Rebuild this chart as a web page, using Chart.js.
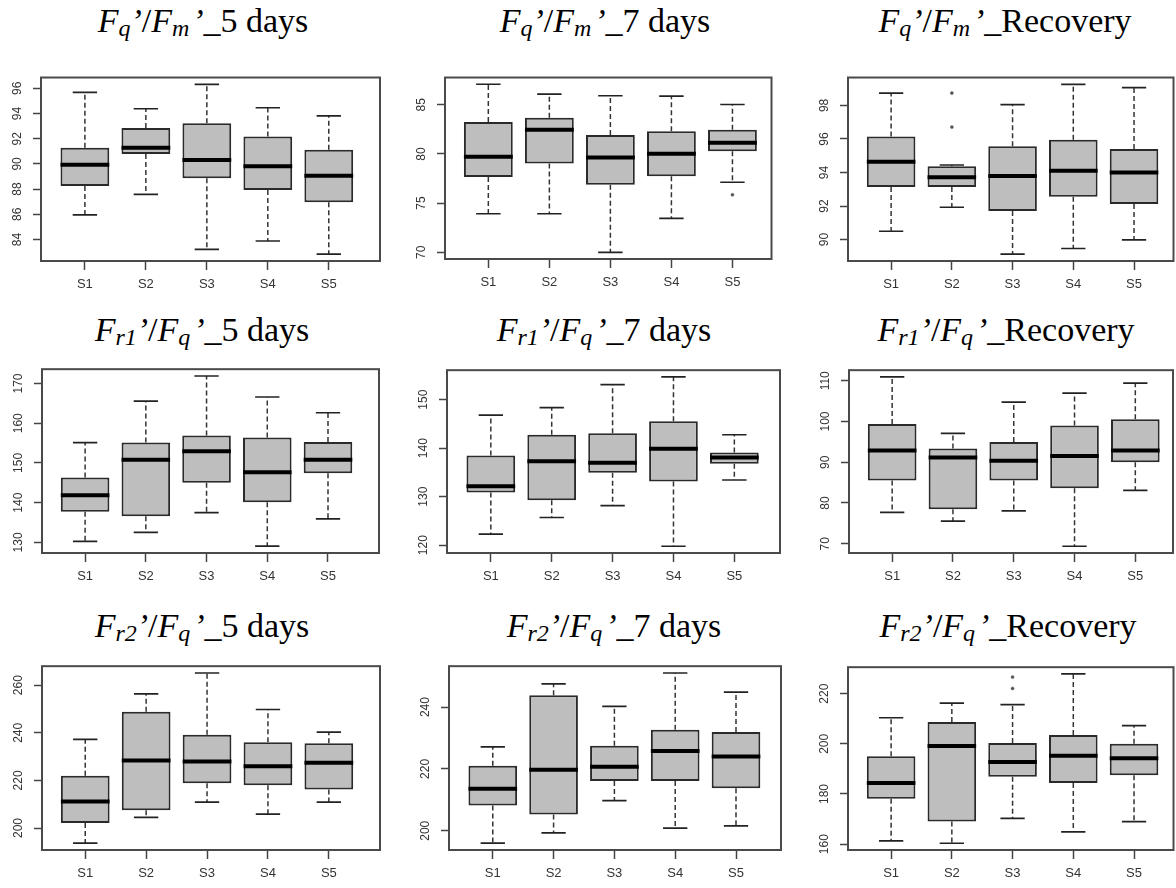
<!DOCTYPE html>
<html>
<head>
<meta charset="utf-8">
<script src="https://cdn.jsdelivr.net/npm/chart.js@4.4.0/dist/chart.umd.min.js"></script>
<style>
body { margin: 0; background: #fff; width: 1176px; height: 888px; position: relative; overflow: hidden; }
.title { position: absolute; width: 400px; text-align: center; font-family: "Liberation Serif", "Times New Roman", serif;
         font-size: 34px; line-height: 34px; white-space: nowrap; color: #000; }
.title sub { font-size: 24px; vertical-align: -4px; line-height: 0; }
canvas { position: absolute; }
</style>
</head>
<body>
<script>
// categories and panel names
const categories = ['S1', 'S2', 'S3', 'S4', 'S5'];
const ratioNames = [['q', 'm'], ['r1', 'q'], ['r2', 'q']];
const periods = ['5 days', '7 days', 'Recovery'];

// box statistics, one row per panel (left to right, top to bottom)
const whiskerLow = [
    [85.95, 87.58, 83.21, 83.88, 82.83],
    [73.92, 73.92, 70.00, 73.45, 77.12],
    [90.50, 91.93, 89.13, 89.47, 89.99],
    [130.24, 132.52, 137.50, 129.04, 135.91],
    [122.30, 125.71, 128.17, 119.79, 133.44],
    [77.69, 75.54, 78.08, 69.38, 83.07],
    [193.62, 204.50, 210.86, 205.82, 210.86],
    [195.97, 199.33, 209.71, 200.86, 201.56],
    [161.27, 160.37, 170.27, 164.87, 168.99]
];
const quartile1 = [
    [88.24, 90.78, 88.87, 87.93, 86.96],
    [77.65, 79.02, 76.87, 77.72, 80.28],
    [93.14, 93.14, 91.71, 92.55, 92.12],
    [137.74, 136.56, 145.02, 140.11, 147.39],
    [130.87, 129.25, 134.92, 133.11, 136.78],
    [85.54, 78.45, 85.54, 83.63, 90.00],
    [202.12, 207.41, 218.81, 218.01, 216.15],
    [208.18, 205.22, 216.12, 216.12, 213.77],
    [178.14, 168.99, 186.88, 184.37, 187.51]
];
const median = [
    [89.93, 91.28, 90.31, 89.82, 89.05],
    [79.72, 82.47, 79.65, 80.03, 81.14],
    [94.64, 93.72, 93.80, 94.10, 94.00],
    [141.84, 150.78, 152.92, 147.63, 150.78],
    [132.14, 137.30, 136.97, 139.87, 138.07],
    [92.86, 91.15, 90.39, 91.55, 92.86],
    [211.10, 228.34, 227.95, 225.96, 227.40],
    [213.59, 219.69, 220.70, 225.80, 223.97],
    [184.37, 199.14, 192.76, 195.24, 194.26]
];
const quartile3 = [
    [91.28, 92.85, 93.22, 92.18, 91.13],
    [83.26, 83.67, 81.93, 82.31, 82.47],
    [96.15, 94.37, 95.57, 95.96, 95.40],
    [146.35, 155.12, 156.88, 156.40, 155.29],
    [138.46, 142.76, 143.09, 145.54, 139.10],
    [99.40, 93.39, 94.94, 99.01, 100.55],
    [221.99, 248.84, 239.19, 236.01, 235.61],
    [221.00, 243.82, 227.51, 232.70, 231.91],
    [195.01, 208.74, 200.37, 203.49, 200.00]
];
const whiskerHigh = [
    [95.68, 94.38, 96.32, 94.46, 93.82],
    [87.09, 86.08, 85.92, 85.89, 85.03],
    [98.74, 94.45, 98.05, 99.26, 99.06],
    [155.12, 165.56, 171.89, 166.60, 162.64],
    [146.82, 148.36, 153.07, 154.67, 142.76],
    [110.94, 97.09, 104.78, 106.95, 109.40],
    [237.20, 256.39, 265.13, 249.80, 240.26],
    [227.11, 247.48, 240.24, 251.02, 244.82],
    [210.39, 216.24, 215.64, 227.86, 207.24]
];
// outliers as [category number, value]
const outliers = [
    [], [[5, 75.85]], [[2, 98.74], [2, 96.71]],
    [], [], [],
    [], [], [[3, 226.6], [3, 222.1]]
];
const tickSteps = [2, 5, 2, 10, 10, 10, 20, 20, 20];

// layout: plot box [left, top, right, bottom] and x range per panel
const areas = [
    [41, 64, 380, 261], [445, 64, 772, 259], [848, 64, 1174, 261],
    [42, 359, 379, 553], [447, 360, 780, 553], [849, 360, 1173, 553],
    [42, 656, 380, 850], [449, 656, 781, 850], [848, 657, 1174, 850]
];
const xRanges = [
    [0.28, 5.84], [0.29, 5.64], [0.29, 5.65],
    [0.29, 5.84], [0.28, 5.75], [0.29, 5.62],
    [0.29, 5.84], [0.28, 5.74], [0.29, 5.65]
];
const titleCenters = [203, 605, 1005, 202, 604, 1006, 202, 614, 1008];
const titleBaselines = [32, 341, 637];

const framePlugin = {
    id: 'frame',
    afterDatasetsDraw(chart) {
        const a = chart.chartArea;
        const ctx = chart.ctx;
        ctx.save();
        ctx.strokeStyle = '#4a4a4a';
        ctx.lineWidth = 2;
        ctx.strokeRect(a.left, a.top, a.right - a.left, a.bottom - a.top);
        ctx.restore();
    }
};

function halfWidth(ctx, units) {
    const s = ctx.chart.scales.x;
    return Math.abs(s.getPixelForValue(1 + units) - s.getPixelForValue(1));
}

for (let p = 0; p < 9; p++) {
    const row = Math.floor(p / 3), col = p % 3;

    // title
    const t = document.createElement('div');
    t.className = 'title';
    t.style.left = (titleCenters[p] - 200) + 'px';
    t.style.top = (titleBaselines[row] - 28.5) + 'px';
    const names = ratioNames[row];
    t.innerHTML = '<i>F</i><sub><i>' + names[0] + '</i></sub><i>’</i>/<i>F</i><sub><i>' + names[1] +
        '</i></sub><i>&#8202;’</i>_' + periods[col];
    document.body.appendChild(t);

    // y range like R: data range plus 4 %
    const all = whiskerLow[p].concat(whiskerHigh[p], outliers[p].map(o => o[1]));
    const lo = Math.min(...all), hi = Math.max(...all);
    const ext = (hi - lo) * 0.04;
    const digits = String(Math.floor(hi)).length;

    const a = areas[p];
    const yAxisW = 40, xAxisH = 36, padT = 2, padR = 4;
    const canvas = document.createElement('canvas');
    canvas.width = a[2] - a[0] + yAxisW + padR;
    canvas.height = a[3] - a[1] + padT + xAxisH;
    canvas.style.left = (a[0] - yAxisW) + 'px';
    canvas.style.top = (a[1] - padT) + 'px';
    document.body.appendChild(canvas);

    const whiskerData = [];
    const capData = [];
    categories.forEach((c, i) => {
        whiskerData.push({x: i + 1, y: quartile3[p][i]}, {x: i + 1, y: whiskerHigh[p][i]}, {x: i + 1, y: null});
        whiskerData.push({x: i + 1, y: quartile1[p][i]}, {x: i + 1, y: whiskerLow[p][i]}, {x: i + 1, y: null});
        capData.push({x: i + 1, y: whiskerHigh[p][i]}, {x: i + 1, y: whiskerLow[p][i]});
    });

    new Chart(canvas, {
        type: 'bar',
        data: {
            datasets: [{
                type: 'bar',
                data: categories.map((c, i) => ({x: i + 1, y: [quartile1[p][i], quartile3[p][i]]})),
                backgroundColor: '#bebebe',
                borderColor: '#2a2a2a',
                borderWidth: 2,
                borderSkipped: false,
                barPercentage: 0.8,
                categoryPercentage: 1,
                order: 3
            }, {
                type: 'line',
                data: whiskerData,
                borderColor: '#333',
                borderWidth: 1.5,
                borderDash: [5, 3],
                pointRadius: 0,
                spanGaps: false,
                order: 4
            }, {
                type: 'scatter',
                data: capData,
                pointStyle: 'line',
                pointRadius: ctx => halfWidth(ctx, 0.2),
                pointBorderColor: '#222',
                pointBorderWidth: 1.7,
                order: 2
            }, {
                type: 'scatter',
                data: categories.map((c, i) => ({x: i + 1, y: median[p][i]})),
                pointStyle: 'line',
                pointRadius: ctx => halfWidth(ctx, 0.4),
                pointBorderColor: '#000',
                pointBorderWidth: 4,
                order: 1
            }, {
                type: 'scatter',
                data: outliers[p].map(o => ({x: o[0], y: o[1]})),
                pointStyle: 'circle',
                pointRadius: 1.5,
                pointBackgroundColor: '#555',
                pointBorderColor: '#555',
                pointBorderWidth: 0.5,
                order: 0
            }]
        },
        options: {
            responsive: false,
            animation: false,
            devicePixelRatio: 1,
            layout: {padding: {top: padT, right: padR, left: 0, bottom: 0}},
            plugins: {legend: {display: false}, tooltip: {enabled: false}},
            scales: {
                x: {
                    type: 'linear',
                    min: xRanges[p][0],
                    max: xRanges[p][1],
                    offset: false,
                    border: {display: false},
                    grid: {display: true, drawOnChartArea: false, offset: false, tickLength: 9, color: '#444', tickWidth: 1.5},
                    afterBuildTicks: scale => { scale.ticks = categories.map((c, i) => ({value: i + 1})); },
                    afterFit: scale => { scale.height = xAxisH; },
                    ticks: {
                        autoSkip: false,
                        maxRotation: 0,
                        padding: 7,
                        color: '#333',
                        font: {family: 'Liberation Sans', size: 13},
                        callback: v => categories[v - 1]
                    }
                },
                y: {
                    type: 'linear',
                    min: lo - ext,
                    max: hi + ext,
                    border: {display: false},
                    grid: {display: true, drawOnChartArea: false, tickLength: 8, color: '#444', tickWidth: 1.5},
                    afterFit: scale => { scale.width = yAxisW; },
                    ticks: {
                        stepSize: tickSteps[p],
                        includeBounds: false,
                        minRotation: 90,
                        maxRotation: 90,
                        crossAlign: 'center',
                        padding: 15 - digits * 3.34,
                        color: '#333',
                        font: {family: 'Liberation Sans', size: 12}
                    }
                }
            }
        },
        plugins: [framePlugin]
    });
}
</script>
</body>
</html>
